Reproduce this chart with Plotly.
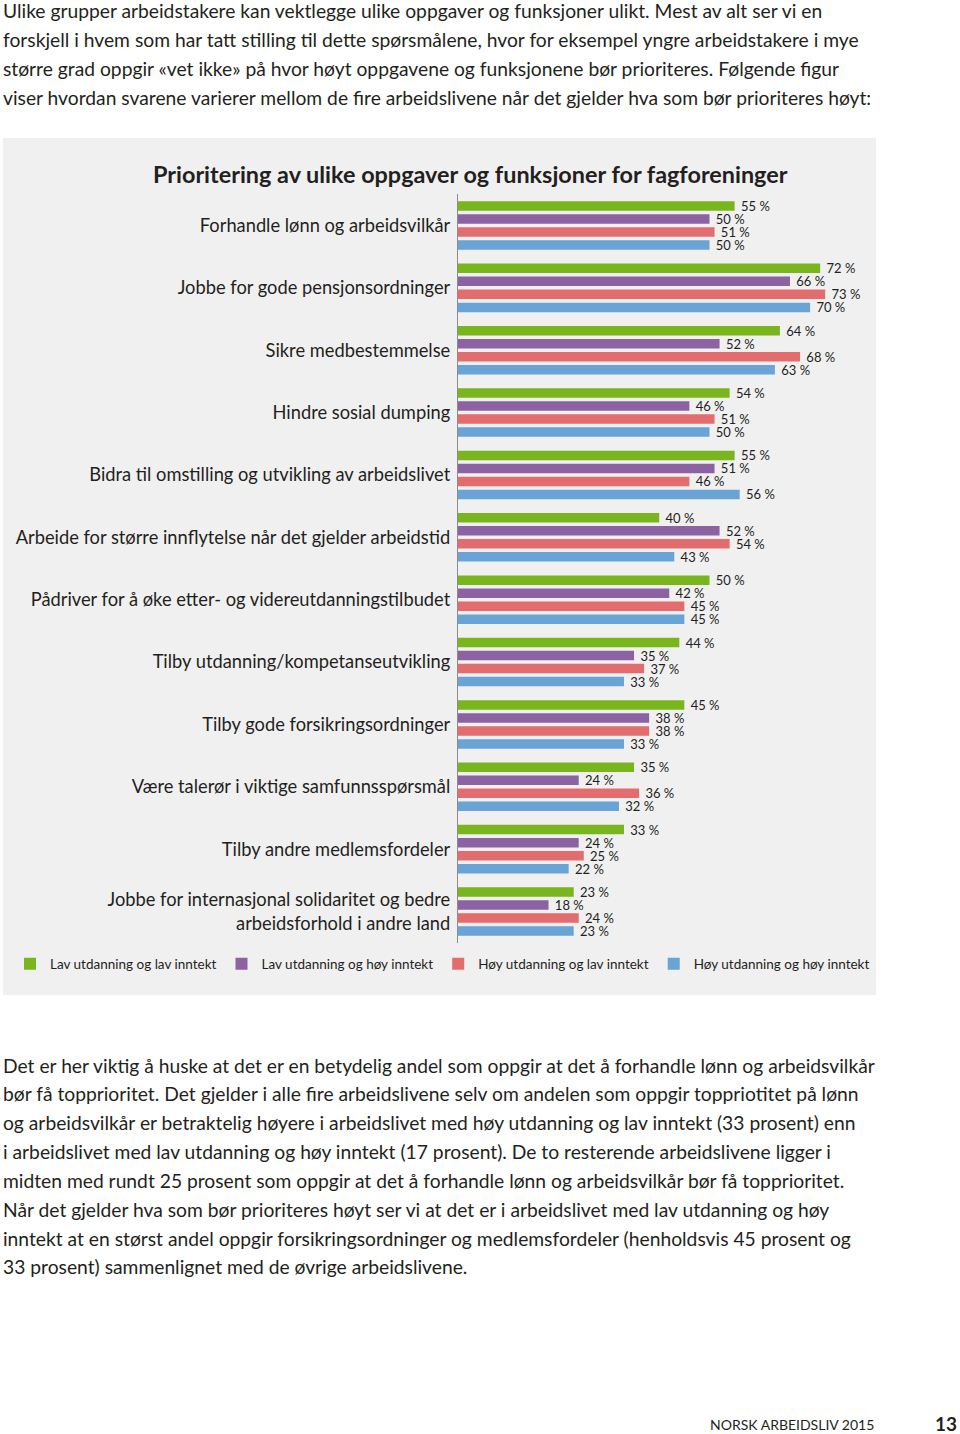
import plotly.graph_objects as go

# ---- data ----
categories = [
    "Forhandle lønn og arbeidsvilkår",
    "Jobbe for gode pensjonsordninger",
    "Sikre medbestemmelse",
    "Hindre sosial dumping",
    "Bidra til omstilling og utvikling av arbeidslivet",
    "Arbeide for større innflytelse når det gjelder arbeidstid",
    "Pådriver for å øke etter- og videreutdanningstilbudet",
    "Tilby utdanning/kompetanseutvikling",
    "Tilby gode forsikringsordninger",
    "Være talerør i viktige samfunnsspørsmål",
    "Tilby andre medlemsfordeler",
    "Jobbe for internasjonal solidaritet og bedre<br>arbeidsforhold i andre land",
]
series_names = [
    "Lav utdanning og lav inntekt",
    "Lav utdanning og høy inntekt",
    "Høy utdanning og lav inntekt",
    "Høy utdanning og høy inntekt",
]
lav_lav = [55, 72, 64, 54, 55, 40, 50, 44, 45, 35, 33, 23]
lav_hoy = [50, 66, 52, 46, 51, 52, 42, 35, 38, 24, 24, 18]
hoy_lav = [51, 73, 68, 51, 46, 54, 45, 37, 38, 36, 25, 24]
hoy_hoy = [50, 70, 63, 50, 56, 43, 45, 33, 33, 32, 22, 23]
series_values = [lav_lav, lav_hoy, hoy_lav, hoy_hoy]
colors = ["#79b51c", "#8b63a3", "#e36c6e", "#6aa3d5"]

title_text = "Prioritering av ulike oppgaver og funksjoner for fagforeninger"

top_lines = [
    "Ulike grupper arbeidstakere kan vektlegge ulike oppgaver og funksjoner ulikt. Mest av alt ser vi en",
    "forskjell i hvem som har tatt stilling til dette spørsmålene, hvor for eksempel yngre arbeidstakere i mye",
    "større grad oppgir «vet ikke» på hvor høyt oppgavene og funksjonene bør prioriteres. Følgende figur",
    "viser hvordan svarene varierer mellom de fire arbeidslivene når det gjelder hva som bør prioriteres høyt:",
]
bottom_lines = [
    "Det er her viktig å huske at det er en betydelig andel som oppgir at det å forhandle lønn og arbeidsvilkår",
    "bør få topprioritet. Det gjelder i alle fire arbeidslivene selv om andelen som oppgir toppriotitet på lønn",
    "og arbeidsvilkår er betraktelig høyere i arbeidslivet med høy utdanning og lav inntekt (33 prosent) enn",
    "i arbeidslivet med lav utdanning og høy inntekt (17 prosent). De to resterende arbeidslivene ligger i",
    "midten med rundt 25 prosent som oppgir at det å forhandle lønn og arbeidsvilkår bør få topprioritet.",
    "Når det gjelder hva som bør prioriteres høyt ser vi at det er i arbeidslivet med lav utdanning og høy",
    "inntekt at en størst andel oppgir forsikringsordninger og medlemsfordeler (henholdsvis 45 prosent og",
    "33 prosent) sammenlignet med de øvrige arbeidslivene.",
]
footer_text = "NORSK ARBEIDSLIV 2015"
page_number = "13"

# ---- layout helpers ----
W, H = 960, 1434
FONT = "Lato"
INK = "#231f20"


def px_x(x):
    return x / W


def px_y(y):
    return 1 - y / H


fig = go.Figure()
for name, vals, col in zip(series_names, series_values, colors):
    fig.add_trace(go.Bar(
        y=categories, x=vals, name=name, orientation="h",
        marker=dict(color=col, line=dict(width=0)),
        text=[f"\u00a0{v} %" for v in vals], textposition="outside",
        textfont=dict(size=13, color=INK, family=FONT),
        constraintext="none", cliponaxis=False,
        hovertemplate="%{y}: %{x} %<extra>" + name + "</extra>",
    ))

x0, x1 = 458, 875.5
y_top, y_bot = 194.3, 942.7
fig.update_layout(
    width=W, height=H,
    margin=dict(l=0, r=0, t=0, b=0),
    paper_bgcolor="white", plot_bgcolor="rgba(0,0,0,0)",
    font=dict(family=FONT, color=INK),
    barmode="group", bargap=0.165, bargroupgap=0.27,
    showlegend=True,
    legend=dict(
        orientation="h", x=px_x(10), y=px_y(964), xanchor="left", yanchor="middle",
        font=dict(size=13.5, family=FONT, color=INK),
        bgcolor="rgba(0,0,0,0)", traceorder="normal",
        itemwidth=30, tracegroupgap=0,
    ),
    xaxis=dict(domain=[px_x(x0), px_x(x1)], range=[0, (x1 - x0) / 5.03],
               visible=False, fixedrange=True),
    yaxis=dict(domain=[px_y(y_bot), px_y(y_top)], autorange="reversed",
               showline=True, linecolor="#8c8c8c", linewidth=1.2,
               ticks="", showgrid=False, zeroline=False,
               tickfont=dict(size=18.3, family=FONT, color=INK),
               ticklabelstandoff=3),
    shapes=[dict(type="rect", xref="paper", yref="paper",
                 x0=px_x(3), x1=px_x(876), y0=px_y(995), y1=px_y(138),
                 fillcolor="#f0f0f0", line=dict(width=0), layer="below")],
)

ann = []
ann.append(dict(text=f"<b>{title_text}</b>", x=px_x(470), y=px_y(174),
                xref="paper", yref="paper", xanchor="center", yanchor="middle",
                showarrow=False, font=dict(size=23.4, family=FONT, color=INK)))
for i, line in enumerate(top_lines):
    ann.append(dict(text=line, x=px_x(1), y=px_y(11 + i * 28.7),
                    xref="paper", yref="paper", xanchor="left", yanchor="middle",
                    showarrow=False, font=dict(size=19.25, family=FONT, color=INK)))
for i, line in enumerate(bottom_lines):
    ann.append(dict(text=line, x=px_x(1), y=px_y(1065 + i * 28.85),
                    xref="paper", yref="paper", xanchor="left", yanchor="middle",
                    showarrow=False, font=dict(size=19.25, family=FONT, color=INK)))
ann.append(dict(text=footer_text, x=px_x(876), y=px_y(1424),
                xref="paper", yref="paper", xanchor="right", yanchor="middle",
                showarrow=False, font=dict(size=14, family=FONT, color=INK)))
ann.append(dict(text=f"<b>{page_number}</b>", x=px_x(959), y=px_y(1423),
                xref="paper", yref="paper", xanchor="right", yanchor="middle",
                showarrow=False, font=dict(size=19, family=FONT, color=INK)))
fig.update_layout(annotations=ann)

fig.write_html(
    "out.html",
    config={"displayModeBar": False},
    post_script="document.body.style.margin='0';document.body.style.padding='0';",
)
